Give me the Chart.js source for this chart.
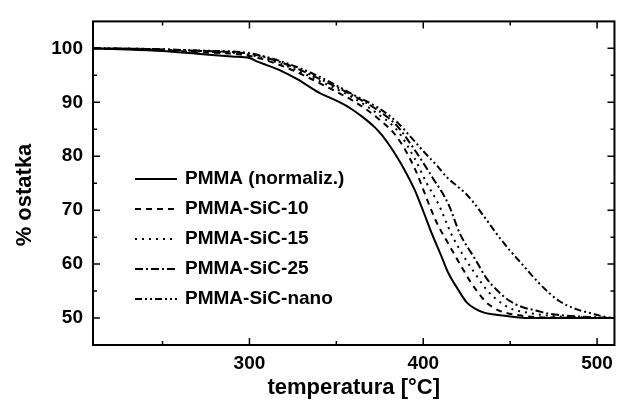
<!DOCTYPE html>
<html><head><meta charset="utf-8">
<script src="https://cdn.jsdelivr.net/npm/chart.js@4.4.0/dist/chart.umd.min.js"></script>
<style>html,body{margin:0;padding:0;background:#fff;}#wrap{width:620px;height:403px;}</style>
</head><body><div id="wrap"><canvas id="c" width="620" height="403"></canvas></div>
<script>
const seriesNames = ['PMMA (normaliz.)','PMMA-SiC-10','PMMA-SiC-15','PMMA-SiC-25','PMMA-SiC-nano'];
const pmmaT = [210,230,250,270,290,300,305,310,317,328,340,350,358,365,372,376,381,385,389,395,400,405,410,414.5,420,425,430,435,440,450,460,510];
const pmmaV = [100,99.8,99.5,99.0,98.5,98.2,97.5,96.9,96.0,94.2,91.8,90.3,88.9,87.3,85.4,84.0,81.8,79.8,77.6,73.8,69.8,65.6,61.8,58.3,55.3,52.9,51.7,51.0,50.7,50.3,50.0,50.0];
const sic10T = [210,240,270,300,320,340,361,374,385,395,404,408,412.6,417.4,422,427,431.6,436,440,445,455,470,510];
const sic10V = [100,99.8,99.3,98.6,96.6,93.6,90.0,87.0,83.5,77.8,70.5,67.5,64.8,62.1,59.5,56.8,54.7,53.0,52.0,51.2,50.5,50.1,50.0];
const sic15T = [210,240,270,300,320,340,361,374,385,395,402,408.8,416.4,423,429.7,436.3,442,450,460,470,485,510];
const sic15V = [100,99.85,99.45,98.8,96.9,94.0,90.6,87.8,84.8,79.6,75.0,71.1,65.4,61.6,58.3,55.3,53.5,51.8,51.0,50.5,50.2,50.0];
const sic25T = [210,240,270,300,320,340,361,374,385,395,405,414.5,421,429.7,436.3,442,449.6,457.3,464.8,472.4,480,495,510];
const sic25V = [100,99.9,99.55,99.0,97.2,94.4,91.0,88.5,85.6,81.2,76.2,71.1,65.7,61.0,57.4,55.3,53.2,52.0,51.4,50.8,50.5,50.2,50.0];
const nanoT = [210,240,270,300,320,340,361,374,385,393,401,408,413.6,419,424,429,432.5,438,442,449.4,457.4,466.5,478,487.6,497.3,506.4,510];
const nanoV = [100,99.9,99.6,99.1,97.4,94.8,91.2,89.0,86.3,83.5,80.6,78.2,76.1,74.6,73.2,71.4,69.9,67.5,65.7,62.7,59.8,56.5,53.2,51.7,50.8,50.1,50.0];
const xMajorTicks = [300,400,500];
const xMinorTicks = [250,350,450];
const yMajorTicks = [50,60,70,80,90,100];
const yMinorTicks = [55,65,75,85,95];
const xTitle = 'temperatura [°C]';
const yTitle = '% ostatka';

const FONT = "'Liberation Sans', Arial, sans-serif";
const toPts = (T, V) => T.map((t, i) => ({x: t, y: V[i]}));
const dashes = [[], [6,5], [2,5], [8,3,2,3], [7,3,2,3,2,3]];
const seriesT = [pmmaT, sic10T, sic15T, sic25T, nanoT];
const seriesV = [pmmaV, sic10V, sic15V, sic25V, nanoV];

const datasets = seriesNames.map((n, i) => ({
  label: n,
  data: toPts(seriesT[i], seriesV[i]),
  borderColor: '#000',
  borderWidth: 2,
  borderDash: dashes[i],
  pointRadius: 0,
  fill: false,
  cubicInterpolationMode: 'monotone'
}));

const framePlugin = {
  id: 'frame',
  afterDraw(chart) {
    const {ctx, chartArea: a, scales: {x, y}} = chart;
    ctx.save();
    ctx.strokeStyle = '#000';
    ctx.lineWidth = 2;
    ctx.setLineDash([]);
    ctx.strokeRect(a.left, a.top, a.right - a.left, a.bottom - a.top);
    ctx.lineWidth = 1.5;
    const tickX = (v, len) => {
      const px = x.getPixelForValue(v);
      ctx.beginPath();
      ctx.moveTo(px, a.bottom); ctx.lineTo(px, a.bottom - len);
      ctx.moveTo(px, a.top); ctx.lineTo(px, a.top + len);
      ctx.stroke();
    };
    const tickY = (v, len) => {
      const py = y.getPixelForValue(v);
      ctx.beginPath();
      ctx.moveTo(a.left, py); ctx.lineTo(a.left + len, py);
      ctx.moveTo(a.right, py); ctx.lineTo(a.right - len, py);
      ctx.stroke();
    };
    xMajorTicks.forEach(v => tickX(v, 7));
    xMinorTicks.forEach(v => tickX(v, 4));
    yMajorTicks.forEach(v => tickY(v, 7));
    yMinorTicks.forEach(v => tickY(v, 4));
    // legend
    ctx.font = "bold 19px " + FONT;
    ctx.fillStyle = '#000';
    ctx.textBaseline = 'alphabetic';
    ctx.textAlign = 'left';
    chart.data.datasets.forEach((ds, i) => {
      const cy = 177 + i * 30;
      ctx.lineWidth = ds.borderWidth;
      ctx.setLineDash(ds.borderDash);
      ctx.beginPath();
      ctx.moveTo(135, cy + 2); ctx.lineTo(177, cy + 2);
      ctx.stroke();
      ctx.setLineDash([]);
      ctx.fillText(ds.label, 185, cy + 7);
    });
    // y title
    ctx.font = "bold 22px " + FONT;
    ctx.translate(25, 195);
    ctx.rotate(-Math.PI / 2);
    ctx.textAlign = 'center';
    ctx.textBaseline = 'middle';
    ctx.fillText(yTitle, 0, 0);
    ctx.restore();
  }
};

new Chart(document.getElementById('c'), {
  type: 'line',
  data: {datasets},
  options: {
    responsive: false,
    devicePixelRatio: 1,
    animation: false,
    layout: {padding: {left: 0, right: 2, top: 11, bottom: 0}},
    plugins: {legend: {display: false}, tooltip: {enabled: false}},
    scales: {
      x: {
        type: 'linear', min: 210, max: 510,
        afterBuildTicks: s => { s.ticks = xMajorTicks.map(v => ({value: v})); },
        afterFit: s => { s.height = 58; },
        grid: {display: false, drawTicks: false},
        border: {display: false},
        ticks: {color: '#000', font: {family: FONT, size: 19, weight: 'bold'}, padding: 7, maxRotation: 0},
        title: {display: true, text: xTitle, color: '#000', font: {family: FONT, size: 22, weight: 'bold'}, padding: {top: 0, bottom: 2}}
      },
      y: {
        type: 'linear', min: 45, max: 105,
        afterBuildTicks: s => { s.ticks = yMajorTicks.map(v => ({value: v})); },
        afterFit: s => { s.width = 93; },
        grid: {display: false, drawTicks: false},
        border: {display: false},
        ticks: {color: '#000', font: {family: FONT, size: 19, weight: 'bold'}, padding: 10}
      }
    }
  },
  plugins: [framePlugin]
});
</script></body></html>
